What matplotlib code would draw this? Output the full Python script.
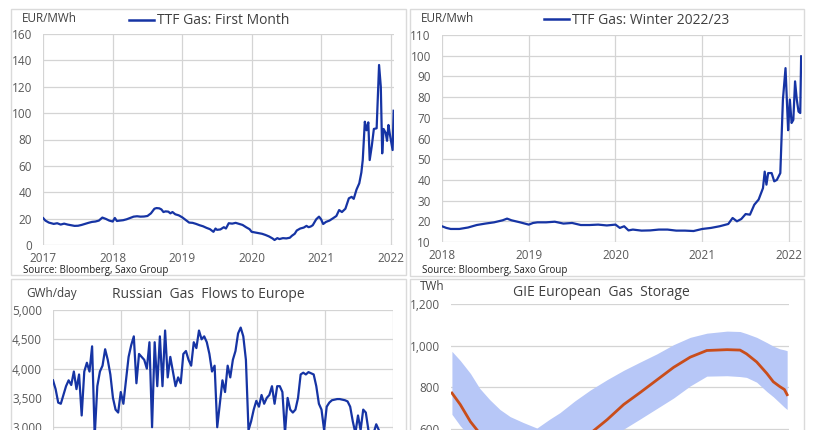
import matplotlib
matplotlib.use("Agg")
import matplotlib.pyplot as plt
import numpy as np
import pandas as pd
from matplotlib.lines import Line2D
from matplotlib.patches import Rectangle
from matplotlib.ticker import FuncFormatter

plt.rcParams['font.family'] = ['Open Sans', 'DejaVu Sans']

# ---------------- data ----------------
# Panel 1: TTF Gas first month (EUR/MWh), x in decimal years
ttf_front_t = [2017.00, 2017.03, 2017.08, 2017.15, 2017.20, 2017.25, 2017.30, 2017.35, 2017.40, 2017.45,
               2017.50, 2017.55, 2017.60, 2017.65, 2017.70, 2017.75, 2017.80, 2017.85, 2017.90, 2017.95,
               2018.00, 2018.03, 2018.06, 2018.10, 2018.15, 2018.20, 2018.25, 2018.30, 2018.35, 2018.40,
               2018.45, 2018.50, 2018.55, 2018.60, 2018.63, 2018.67, 2018.70, 2018.73, 2018.76, 2018.80,
               2018.83, 2018.86, 2018.90, 2018.95, 2019.00, 2019.05, 2019.10, 2019.15, 2019.20, 2019.25,
               2019.30, 2019.35, 2019.40, 2019.45, 2019.48, 2019.50, 2019.55, 2019.60, 2019.63, 2019.67,
               2019.72, 2019.77, 2019.82, 2019.87, 2019.92, 2019.97, 2020.00, 2020.05, 2020.10, 2020.15,
               2020.20, 2020.25, 2020.30, 2020.33, 2020.37, 2020.40, 2020.45, 2020.50, 2020.55, 2020.58,
               2020.62, 2020.65, 2020.70, 2020.75, 2020.79, 2020.82, 2020.85, 2020.88, 2020.93, 2020.97,
               2021.00, 2021.03, 2021.07, 2021.12, 2021.17, 2021.22, 2021.26, 2021.30, 2021.35, 2021.40,
               2021.44, 2021.47, 2021.51, 2021.55, 2021.58, 2021.60, 2021.63, 2021.655, 2021.68, 2021.70,
               2021.73, 2021.76, 2021.80, 2021.835, 2021.86, 2021.88, 2021.90, 2021.93, 2021.95, 2021.97,
               2021.99, 2022.03, 2022.045]
ttf_front_v = [20.3, 18.5, 17.0, 16.0, 16.5, 15.5, 16.2, 15.5, 15.0, 14.5,
               14.6, 15.2, 16.0, 16.8, 17.5, 17.8, 18.5, 20.8, 19.8, 18.5,
               17.8, 20.5, 18.2, 18.5, 18.8, 19.5, 20.5, 21.5, 21.8, 21.5,
               21.6, 22.0, 24.0, 27.5, 28.0, 27.8, 27.0, 25.0, 25.5, 25.3,
               24.0, 25.0, 23.3, 22.5, 21.0, 19.0, 17.0, 16.8, 16.0, 15.0,
               14.2, 13.0, 12.0, 10.0, 12.5, 11.5, 11.8, 13.5, 12.5, 16.5,
               16.2, 16.8, 16.0, 15.2, 13.5, 12.0, 10.0, 9.5, 9.0, 8.5,
               7.6, 6.5, 5.0, 3.8, 5.2, 4.5, 5.2, 5.0, 5.5, 7.0,
               8.5, 11.0, 12.5, 13.2, 14.5, 13.5, 14.0, 15.0, 19.5, 21.5,
               19.5, 15.9, 17.5, 18.5, 20.2, 22.0, 26.5, 25.0, 27.5, 35.4,
               36.5, 35.0, 42.0, 46.8, 55.0, 64.4, 93.5, 87.0, 93.0, 64.4,
               75.0, 88.0, 88.5, 136.5, 120.0, 69.5, 88.0, 85.0, 79.0, 91.0,
               84.0, 72.0, 101.8]
front_years = [2017, 2018, 2019, 2020, 2021, 2022]

# Panel 2: TTF Gas Winter 2022/23 (EUR/MWh)
ttf_winter_t = [2018.00, 2018.05, 2018.10, 2018.20, 2018.30, 2018.40, 2018.50, 2018.60, 2018.70, 2018.75,
                2018.80, 2018.90, 2019.00, 2019.05, 2019.10, 2019.20, 2019.30, 2019.40, 2019.50, 2019.60,
                2019.70, 2019.80, 2019.90, 2020.00, 2020.05, 2020.10, 2020.15, 2020.20, 2020.30, 2020.40,
                2020.50, 2020.60, 2020.70, 2020.80, 2020.90, 2021.00, 2021.10, 2021.20, 2021.30, 2021.35,
                2021.40, 2021.45, 2021.50, 2021.55, 2021.60, 2021.65, 2021.70, 2021.72, 2021.74, 2021.76,
                2021.80, 2021.83, 2021.86, 2021.90, 2021.93, 2021.96, 2021.98, 2021.99, 2022.01, 2022.03,
                2022.05, 2022.07, 2022.09, 2022.11, 2022.13, 2022.14]
ttf_winter_v = [17.6, 16.8, 16.3, 16.3, 17.0, 18.2, 18.9, 19.5, 20.5, 21.3,
                20.5, 19.5, 18.4, 19.2, 19.5, 19.5, 19.8, 18.9, 19.2, 18.2,
                18.2, 18.4, 18.0, 18.4, 16.8, 17.6, 15.6, 16.0, 15.5, 15.6,
                16.0, 16.0, 15.5, 15.5, 15.3, 16.3, 16.8, 17.6, 18.7, 21.6,
                20.0, 21.1, 23.5, 23.2, 28.0, 30.5, 36.0, 44.0, 37.7, 43.3,
                43.3, 39.3, 40.0, 43.3, 78.8, 94.0, 74.0, 64.0, 78.8, 67.5,
                69.0, 87.6, 78.8, 73.0, 72.3, 99.7]
winter_years = [2018, 2019, 2020, 2021, 2022]

# Panel 3: Russian gas flows to Europe (GWh/day), fortnightly from Jan 2017
flows_start = "2017-01-01"
flows_v = [3800, 3650, 3420, 3400, 3550, 3700, 3800, 3720, 3950, 3650,
           3900, 3200, 3950, 4100, 3950, 4380, 2850, 3700, 3950, 4050,
           4330, 4150, 3900, 3500, 3300, 3250, 3600, 3400, 3800, 4200,
           4400, 4550, 3750, 4250, 4200, 4150, 4000, 4450, 3000, 4450,
           3700, 4550, 3700, 4650, 3850, 4200, 3950, 3700, 3850, 3750,
           4250, 4300, 4150, 4050, 4450, 4350, 4650, 4500, 4550, 4450,
           4250, 3950, 4050, 3000, 3400, 3800, 3600, 4050, 3850, 4150,
           4300, 4600, 4700, 4550, 4150, 2950, 3100, 3300, 3450, 3350,
           3550, 3400, 3500, 3550, 3700, 3400, 3700, 3700, 3600, 2900,
           3500, 3300, 3250, 3300, 3500, 3900, 3930, 3900, 3940, 3920,
           3900, 3700, 3400, 3300, 2950, 3350, 3420, 3460, 3470, 3480,
           3480, 3470, 3460, 3440, 3350, 3100, 2900, 3200, 2950, 3300,
           3250, 2950, 2850, 2900, 3050, 2950]
flows_years = ["2017-01-01", "2018-01-01", "2019-01-01", "2020-01-01", "2021-01-01", "2022-01-01"]
flows_ticks = [3000, 3500, 4000, 4500, 5000]

# Panel 4: GIE European gas storage (TWh), by day of year
storage_day = [2, 11, 22, 32, 43, 54, 65, 79, 94, 108, 119, 135, 152, 170, 188, 206, 224, 242,
               260, 278, 300, 314, 321, 332, 343, 350, 357, 362, 365]
storage_max = [973, 929, 867, 796, 741, 694, 660, 632, 605, 648, 679, 735, 788, 837, 882, 922, 961, 1005,
               1040, 1060, 1070, 1068, 1058, 1040, 1015, 998, 985, 980, 976]
storage_min = [671, 616, 560, 510, 470, 435, 410, 385, 370, 375, 395, 430, 480, 540, 600, 649, 699, 749,
               807, 854, 856, 852, 848, 825, 780, 755, 726, 705, 694]
storage_avg = [773, 718, 636, 580, 530, 500, 480, 465, 460, 480, 505, 540, 580, 645, 718, 776, 836, 896,
               945, 977, 981, 979, 961, 922, 867, 827, 804, 790, 765]
storage_ticks = [600, 800, 1000, 1200]

# ---------------- styling ----------------
W, H = 816, 430
BLUE = "#1634a4"
ORANGE = "#c94d1b"
BAND = "#b7c7f7"
GRID = "#d4d4d4"
TICK = "#595959"
TXT = "#404040"
BORDER = "#dadada"

fig = plt.figure(figsize=(W / 100, H / 100), dpi=100)
fig.patch.set_facecolor("white")


def fx(x):
    return x / W


def fy(y):
    return 1 - y / H


def px_axes(x0, y0, x1, y1):
    return fig.add_axes([x0 / W, 1 - y1 / H, (x1 - x0) / W, (y1 - y0) / H])


def border(x0, y0, x1, y1):
    fig.patches.append(Rectangle((fx(x0), fy(y1)), (x1 - x0) / W, (y1 - y0) / H,
                                 transform=fig.transFigure, fill=False,
                                 edgecolor=BORDER, lw=1.0))


def style(ax, xgrid=True):
    for s in ax.spines.values():
        s.set_visible(False)
    ax.set_axisbelow(True)
    ax.grid(axis="y", color=GRID, lw=0.9)
    if xgrid:
        ax.grid(axis="x", color=GRID, lw=0.9)
    ax.tick_params(axis="both", length=0, colors=TICK)
    ax.tick_params(axis="y", labelsize=8.5, pad=8)
    ax.tick_params(axis="x", labelsize=8.5, pad=5)


border(11, 9, 406, 275)
border(410, 9, 804, 276)
border(11, 279, 406, 445)
border(410, 279, 804, 445)

comma = FuncFormatter(lambda v, p: f"{v:,.0f}")

# ---- Panel 1 ----
ax1 = px_axes(43.3, 34, 394, 245)
ax1.plot(ttf_front_t, ttf_front_v, color=BLUE, lw=1.6)
ax1.set_xlim(2017, 2022.05)
ax1.set_ylim(0, 160)
ax1.set_yticks(np.arange(0, 161, 20))
ax1.set_xticks(front_years)
ax1.set_xticklabels([str(y) for y in front_years])
style(ax1)
h1 = Line2D([], [], color=BLUE, lw=1.8)
ax1.legend([h1], ["TTF Gas: First Month"], loc="center", bbox_to_anchor=(fx(209), fy(21)),
           bbox_transform=fig.transFigure, frameon=False, fontsize=10, handlelength=1.8,
           handletextpad=0.25, borderpad=0, labelcolor=TXT)
fig.text(fx(22), fy(19), "EUR/MWh", fontsize=8.5, color=TXT, ha="left", va="center")
fig.text(fx(23), fy(270), "Source: Bloomberg, Saxo Group", fontsize=7, color="#202020",
         ha="left", va="center")

# ---- Panel 2 ----
ax2 = px_axes(442, 35, 802, 242)
ax2.plot(ttf_winter_t, ttf_winter_v, color=BLUE, lw=1.6)
ax2.set_xlim(2018, 2022.15)
ax2.set_ylim(10, 110)
ax2.set_yticks(np.arange(10, 111, 10))
ax2.set_xticks(winter_years)
ax2.set_xticklabels([str(y) for y in winter_years])
style(ax2)
h2 = Line2D([], [], color=BLUE, lw=1.8)
ax2.legend([h2], ["TTF Gas: Winter 2022/23"], loc="center", bbox_to_anchor=(fx(636.5), fy(20)),
           bbox_transform=fig.transFigure, frameon=False, fontsize=10, handlelength=1.8,
           handletextpad=0.25, borderpad=0, labelcolor=TXT)
fig.text(fx(421), fy(19), "EUR/Mwh", fontsize=8.5, color=TXT, ha="left", va="center")
fig.text(fx(422), fy(270), "Source: Bloomberg, Saxo Group", fontsize=7, color="#202020",
         ha="left", va="center")

# ---- Panel 3 ----
ax3 = px_axes(53, 310, 393, 310 + 10 * 29.3)
flow_dates = pd.date_range(flows_start, periods=len(flows_v), freq="14D")
ax3.plot(flow_dates, flows_v, color=BLUE, lw=1.6)
yr = pd.to_datetime(flows_years)
ax3.set_xlim(yr[0], yr[-1])
ax3.set_xticks(yr)
ax3.set_ylim(0, 5000)
ax3.set_yticks(flows_ticks)
ax3.yaxis.set_major_formatter(comma)
style(ax3)
ax3.tick_params(axis="x", labelbottom=False)
fig.text(fx(26), fy(293), "GWh/day", fontsize=8.5, color=TXT, ha="left", va="center")
fig.text(fx(208), fy(294), "Russian  Gas  Flows to Europe", fontsize=10, color=TXT,
         ha="center", va="center")

# ---- Panel 4 ----
ax4 = px_axes(451, 304, 789, 304 + 6 * 41.7)
ax4.fill_between(storage_day, storage_min, storage_max, color=BAND, lw=0)
ax4.plot(storage_day, storage_avg, color=ORANGE, lw=2.0)
ax4.set_xlim(1, 367)
ax4.set_ylim(0, 1200)
ax4.set_yticks(storage_ticks)
ax4.yaxis.set_major_formatter(comma)
ax4.set_xticks([])
style(ax4, xgrid=False)
fig.text(fx(420), fy(287), "TWh", fontsize=8.5, color=TXT, ha="left", va="center")
fig.text(fx(601.5), fy(293), "GIE European  Gas  Storage", fontsize=10, color=TXT,
         ha="center", va="center")

fig.savefig("out.png", dpi=100, facecolor="white")
